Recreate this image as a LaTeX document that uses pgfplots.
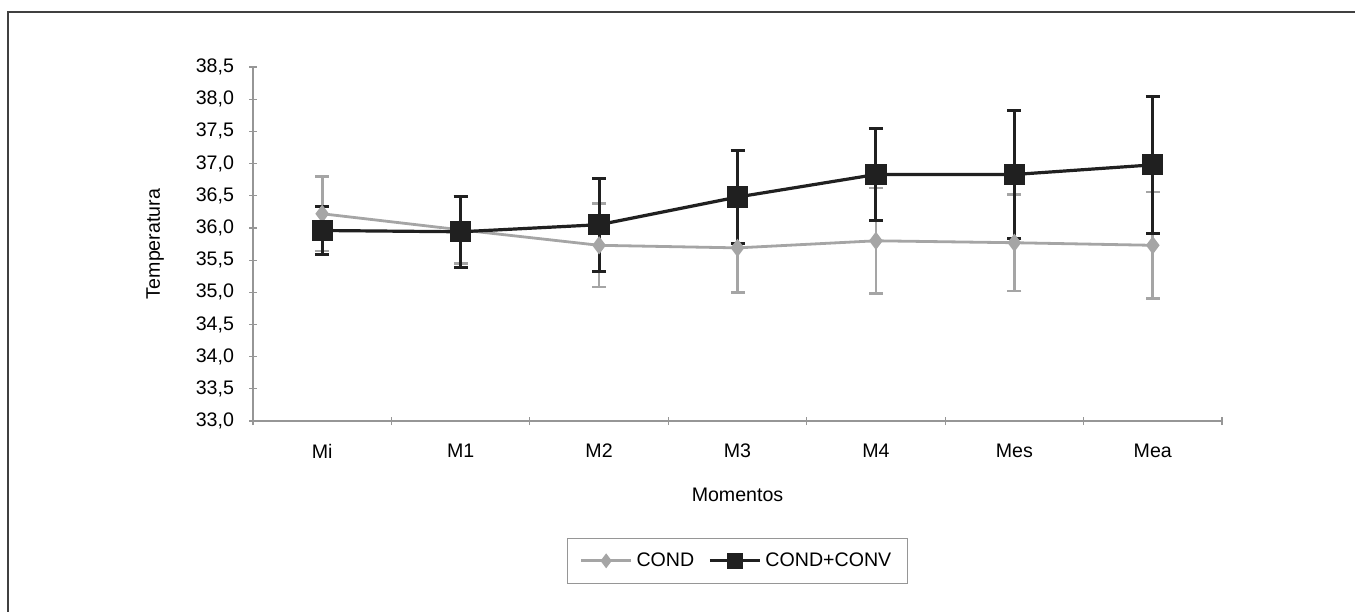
\documentclass[border=0pt]{standalone}
\usepackage{fontspec}
\setmainfont{Liberation Sans}
\usepackage{pgfplots}
\pgfplotsset{compat=1.18}
\definecolor{condgray}{RGB}{165,165,165}
\definecolor{convblack}{RGB}{32,32,32}
\definecolor{axgray}{RGB}{150,150,150}
\newcommand{\chartfont}{\fontsize{9.8}{12}\selectfont}

% mean and standard deviation per moment
\pgfplotstableread{
x  y     e
1  36.22 0.58
2  35.97 0.52
3  35.73 0.65
4  35.69 0.69
5  35.80 0.82
6  35.77 0.75
7  35.73 0.83
}\cond
\pgfplotstableread{
x  y     e
1  35.96 0.37
2  35.94 0.55
3  36.05 0.72
4  36.48 0.72
5  36.83 0.72
6  36.83 1.00
7  36.98 1.06
}\condconv

\begin{document}
\begin{tikzpicture}
\path[use as bounding box] (0,0) rectangle (677.5pt,-305.5pt);
\draw[line width=1.1pt, black!75] (4pt,-310pt) -- (4pt,-6pt) -- (680pt,-6pt);
\begin{axis}[
  at={(126.5pt,-210.5pt)}, anchor=south west,
  scale only axis, width=484.5pt, height=177pt,
  xmin=0.5, xmax=7.5, ymin=33, ymax=38.5,
  axis x line*=bottom, axis y line*=left,
  axis line style={axgray, line width=0.8pt},
  xtick={0.5,1.5,...,7.5},
  xticklabels={Mi,M1,M2,M3,M4,Mes,Mea},
  x tick label as interval,
  ytick={33,33.5,...,38.5},
  tick align=center, major tick length=4pt,
  tick style={axgray, line width=0.6pt},
  font=\chartfont,
  ticklabel style={font=\chartfont},
  xticklabel style={yshift=-6pt},
  yticklabel style={xshift=-4pt},
  /pgf/number format/.cd, use comma, fixed, fixed zerofill, precision=1, assume math mode=true,
  /pgfplots/.cd,
  xlabel={Momentos}, ylabel={Temperatura},
  every axis x label/.style={at={(axis description cs:0.5,-0.21)}, anchor=center},
  every axis y label/.style={at={(axis description cs:-0.101,0.5)}, anchor=center, rotate=90},
  legend style={at={(axis description cs:0.5,-0.395)}, anchor=center,
    draw=axgray, line width=0.6pt, font=\chartfont,
    legend columns=2, inner xsep=6pt, inner ysep=5pt,
    /tikz/every even column/.append style={column sep=5pt}},
  legend image code/.code={\draw[mark repeat=2,mark phase=2,#1]
    plot coordinates {(0pt,0pt) (12.5pt,0pt) (25pt,0pt)};},
]
\addplot[condgray, line width=1.4pt, mark=diamond*, mark size=3.4pt,
  mark options={fill=condgray, draw=condgray}, forget plot,
  error bars/.cd, y dir=both, y explicit,
  error bar style={line width=1.3pt, condgray},
  error mark options={rotate=90, line width=1.3pt, mark size=3.5pt, condgray}]
  table[x=x, y=y, y error=e] {\cond};
\addplot[convblack, line width=1.6pt, mark=square*, mark size=4.5pt,
  mark options={fill=convblack, draw=convblack}, forget plot,
  error bars/.cd, y dir=both, y explicit,
  error bar style={line width=1.5pt, convblack},
  error mark options={rotate=90, line width=1.5pt, mark size=3.5pt, convblack}]
  table[x=x, y=y, y error=e] {\condconv};
\addlegendimage{condgray, line width=1.4pt, mark=diamond*, mark size=2.6pt,
  mark options={fill=condgray, draw=condgray}}
\addlegendentry{COND}
\addlegendimage{convblack, line width=1.6pt, mark=square*, mark size=3.2pt,
  mark options={fill=convblack, draw=convblack}}
\addlegendentry{COND+CONV}
\end{axis}
\end{tikzpicture}
\end{document}
